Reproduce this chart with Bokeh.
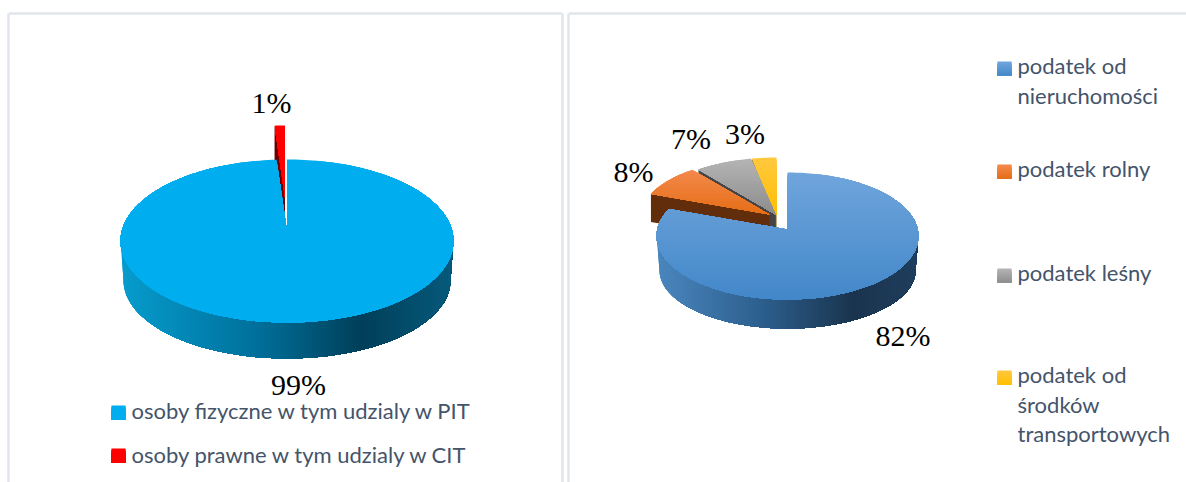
import math
from bokeh.plotting import figure
from bokeh.models import Range1d
from bokeh.core.properties import value
from bokeh.embed import file_html
from bokeh.resources import INLINE

# ---- data ----
left_names = ["osoby fizyczne w tym udzialy w PIT", "osoby prawne w tym udzialy w CIT"]
left_values = [99, 1]
right_names = ["podatek od\nnieruchomości", "podatek rolny", "podatek leśny",
               "podatek od\nśrodków\ntransportowych"]
right_values = [82, 8, 7, 3]

# ---- styles ----
SERIF = "Liberation Serif"
SANS = "Lato"
LEG_COL = "#44546A"
FRAME = "#E1E6EC"


def lerp_col(stops, f):
    f = max(0.0, min(1.0, f))
    for (a, ca), (b, cb) in zip(stops, stops[1:]):
        if f <= b:
            k = (f - a) / (b - a) if b > a else 0
            c = [round(int(ca[i:i+2], 16) + k * (int(cb[i:i+2], 16) - int(ca[i:i+2], 16)))
                 for i in (1, 3, 5)]
            return "#%02x%02x%02x" % tuple(c)
    return stops[-1][1]


def clip(poly, v0, axis):
    """keep the part of poly with coordinate >= v0"""
    out = []
    n = len(poly)
    for i in range(n):
        a, b = poly[i], poly[(i + 1) % n]
        ina, inb = a[axis] >= v0, b[axis] >= v0
        if ina:
            out.append(a)
        if ina != inb:
            k = (v0 - a[axis]) / (b[axis] - a[axis])
            out.append((a[0] + k * (b[0] - a[0]), a[1] + k * (b[1] - a[1])))
    return out


xs_all, ys_all, cols_all = [], [], []


def add(poly, col):
    if len(poly) >= 3:
        xs_all.append([q[0] for q in poly])
        ys_all.append([q[1] for q in poly])
        cols_all.append(col)


def add_grad(poly, stops, axis, step=1.5):
    lo = min(q[axis] for q in poly)
    hi = max(q[axis] for q in poly)
    v = lo
    while v < hi:
        add(clip(poly, v, axis), lerp_col(stops, (v - lo) / (hi - lo)))
        v += step


def arc(cx, cy, rx, ry, t0, t1, n=90):
    pts = []
    for i in range(n + 1):
        t = math.radians(t0 + (t1 - t0) * i / n)
        pts.append((cx + rx * math.sin(t), cy - ry * math.cos(t)))
    return pts


def pie(vals, geom, shifts, faces, walls, main_wall):
    cx, cy, rx, ry, ax, ay, cx2, cy2, rx2, ry2, depth = geom
    total = sum(vals)
    angs = [0]
    for v in vals:
        angs.append(angs[-1] + 360 * v / total)
    # exploded slices, drawn from the last towards the first
    for i in range(len(vals) - 1, 0, -1):
        dx, dy = shifts[i]
        a0, a1 = angs[i], angs[i + 1]
        ap = (ax + dx, ay + dy)
        outer = (cx + dx + rx * math.sin(math.radians(a0)), cy + dy - ry * math.cos(math.radians(a0)))
        add([ap, outer, (outer[0], outer[1] + depth), (ap[0], ap[1] + depth)], walls[i])
        add_grad([ap] + arc(cx + dx, cy + dy, rx, ry, a0, a1, 30), faces[i], 1)
    # main slice: wall then face
    wall = arc(cx, cy, rx, ry, 90, 270) + arc(cx2, cy2, rx2, ry2, 270, 90)
    add_grad(wall, main_wall, 0)
    add_grad([(ax, ay)] + arc(cx, cy, rx, ry, angs[0], angs[1], 240), faces[0], 1)


# left pie
pie(left_values,
    (286.5, 240.5, 166.5, 81.5, 286.5, 231, 286.5, 280, 163.5, 78, 40),
    {1: (-2, -34)},
    [[(0, "#00AEEF"), (1, "#00AEEF")], [(0, "#FF0000"), (1, "#FF0000")]],
    {1: "#6A0000"},
    [(0, "#069CCD"), (0.4, "#00719C"), (0.72, "#003F5A"), (1, "#075A7C")])

# right pie
pie(right_values,
    (787, 235.5, 131, 63.5, 787, 229, 787, 270, 128, 58, 28),
    {1: (-18, -15), 2: (-12, -15), 3: (-11, -15)},
    [[(0, "#70A5DC"), (1, "#4287C9")],
     [(0, "#F4894B"), (1, "#E56D15")],
     [(0, "#B4B4B4"), (1, "#8B8B8B")],
     [(0, "#FFC83E"), (1, "#FFBF00")]],
    {1: "#612D0A", 2: "#444444", 3: "#7A5C00"},
    [(0, "#4A86BE"), (0.4, "#2C5F8D"), (0.75, "#1A344E"), (1, "#1F3E5E")])

# legend swatches
left_cols = [[(0, "#00AEEF"), (1, "#00AEEF")], [(0, "#FF0000"), (1, "#FF0000")]]
right_cols = [[(0, "#70A5DC"), (1, "#4287C9")], [(0, "#F4894B"), (1, "#E56D15")],
              [(0, "#B4B4B4"), (1, "#8B8B8B")], [(0, "#FFC83E"), (1, "#FFBF00")]]


def square(x, y, s, stops):
    add_grad([(x, y), (x + s, y), (x + s, y + s), (x, y + s)], stops, 1, 1)


left_leg_y = [405, 448]
right_leg_y = [61, 164, 268, 370]
for y, st in zip(left_leg_y, left_cols):
    square(111, y, 14, st)
for y, st in zip(right_leg_y, right_cols):
    square(997, y, 14, st)

p = figure(width=1186, height=482, output_backend="svg", toolbar_location=None,
           x_range=Range1d(0, 1186), y_range=Range1d(482, 0),
           min_border=0, outline_line_color=None, background_fill_color="white",
           border_fill_color="white")
p.axis.visible = False
p.grid.visible = False

# panel frames
p.segment(x0=[8, 8, 562, 568, 568], y0=[13, 13, 13, 13, 13],
          x1=[562, 8, 562, 1186, 568], y1=[13, 482, 482, 13, 482],
          line_color=FRAME, line_width=2.5)

p.patches(xs_all, ys_all, fill_color=cols_all, line_color=None)

# data labels
lab_txt = [f"{v}%" for v in left_values + right_values]
lab_x = [298, 271, 902.5, 633, 690.5, 744.5]
lab_y = [384, 102, 335, 171, 138, 133]
p.text(lab_x, lab_y, text=lab_txt, text_font=value(SERIF), text_font_size="30px",
       text_color="#000000", text_align="center", text_baseline="alphabetic")

# legends
leg_x, leg_y, leg_t = [], [], []
for name, y in zip(left_names, [410, 454]):
    leg_x.append(131); leg_y.append(y); leg_t.append(name)
for name, y in zip(right_names, [65, 168, 272, 374]):
    for j, line in enumerate(name.split("\n")):
        leg_x.append(1017); leg_y.append(y + j * 29.5); leg_t.append(line)
p.text(leg_x, leg_y, text=leg_t, text_font=value(SANS), text_font_size="22px",
       text_color=LEG_COL, text_align="left", text_baseline="alphabetic")

open("out.html", "w").write(file_html(p, INLINE))
